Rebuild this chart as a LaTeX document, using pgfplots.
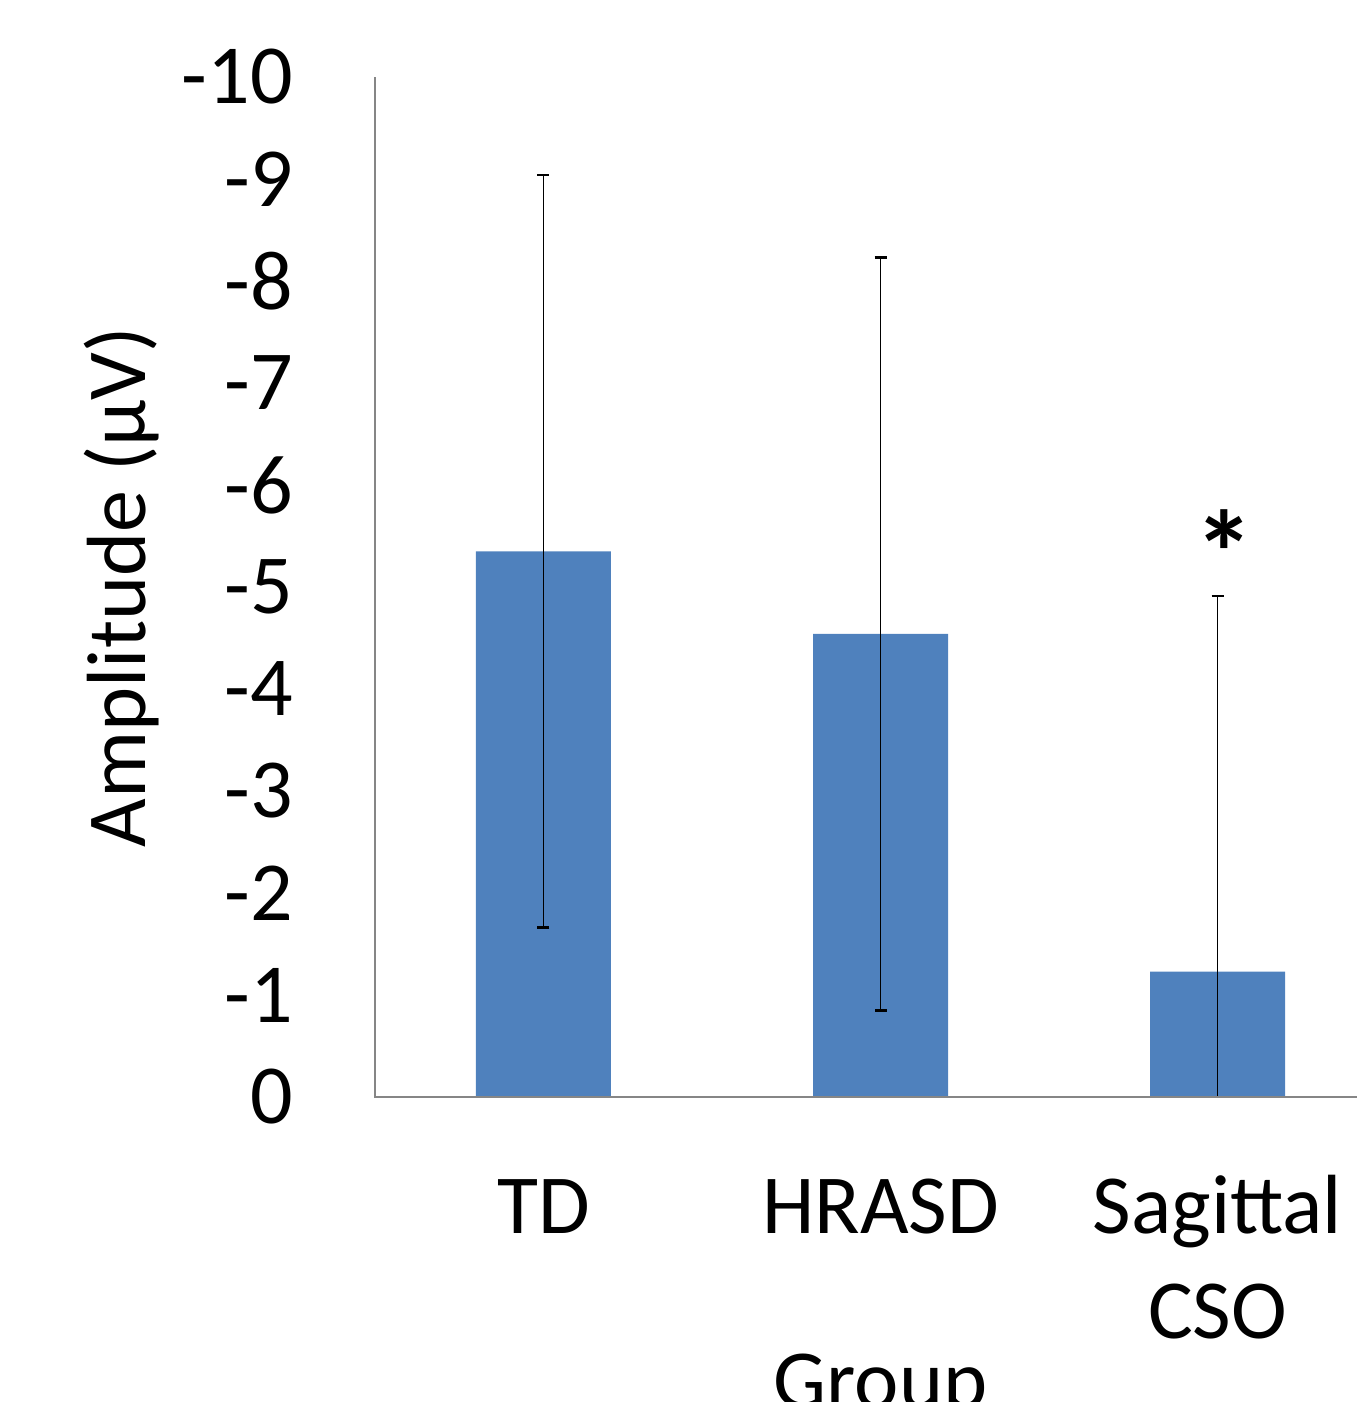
\documentclass[border=0pt]{standalone}
\usepackage{pgfplots}
\pgfplotsset{compat=1.18}
\usepackage{fontspec}
\setmainfont{Carlito}
\definecolor{barblue}{HTML}{4F81BD}
\definecolor{axgray}{HTML}{868686}
\begin{document}
\begin{tikzpicture}
\begin{axis}[
  scale only axis, width=505.5pt, height=510pt,
  xmin=-0.5, xmax=2.5, ymin=-10, ymax=0, y dir=reverse,
  ytick={-10,-9,...,0},
  xtick={0,1,2}, xticklabels={\strut TD,\strut HRASD,\strut Sagittal\\CSO},
  major tick length=0pt,
  axis line style={draw=none},
  clip mode=individual,
  /pgf/number format/assume math mode=true,
  tick label style={font=\fontsize{42}{52.5}\selectfont, inner sep=0pt},
  yticklabel style={anchor=east, xshift=-41pt},
  xticklabel style={anchor=north, align=center, yshift=-31.25pt},
  xlabel={Group}, ylabel={Amplitude (μV)},
  label style={font=\fontsize{42}{52.5}\selectfont, inner sep=0pt},
  xlabel style={at={(axis cs:1,0)}, anchor=base, yshift=-155.5pt},
  ylabel style={at={(axis cs:-1.18,-5)}, anchor=base},
]
\addplot[ybar, bar width=67.5pt, fill=barblue, draw=none,
  error bars/.cd, y dir=both, y explicit,
  error bar style={black, line width=0.75pt},
  error mark options={rotate=90, black, line width=1.2pt, mark size=3pt}]
  coordinates {(0,-5.35) +- (0,3.69) (1,-4.54) +- (0,3.69) (2,-1.23) +- (0,3.68)};
\draw[axgray, line width=1pt] (axis cs:-0.5,-10) -- (axis cs:-0.5,0) -- (axis cs:2.5,0);
\node[font=\bfseries\fontsize{60}{70}\selectfont, inner sep=0pt, anchor=north] at (axis cs:2.02,-5.765) {*};
\coordinate (O) at (axis cs:-0.5,0);
\end{axis}
\pgfresetboundingbox
\path[use as bounding box] ([shift={(-187.5pt,-152.5pt)}]O) rectangle ([shift={(490.5pt,548.5pt)}]O);
\end{tikzpicture}
\end{document}
